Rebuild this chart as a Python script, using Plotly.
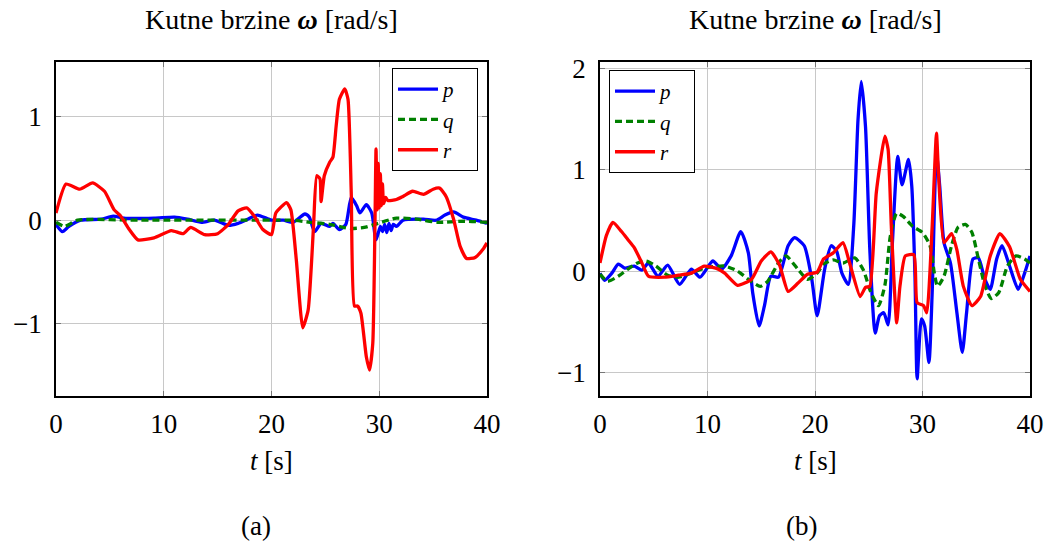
import plotly.graph_objects as go

# ---------------- Data: panel (a) ----------------
a_t_p = [0, 0.6, 1.2, 2.3, 4.2, 5.3, 6.3, 9.1, 11.0, 12.2, 13.5, 14.7, 16.0, 16.9, 17.8, 18.7, 20.0,
         21.1, 22.0, 23.1, 23.5, 24.0, 24.6, 25.4, 25.7, 26.3, 26.9, 27.4, 27.9, 28.2, 28.8, 29.3, 29.7,
         30.1, 30.3, 30.5, 30.7, 30.9, 31.1, 31.3, 31.6, 32.2, 34.1, 35.3, 36.1, 36.9, 37.8, 39.0, 40.0]
a_p = [-0.04, -0.11, -0.06, 0.00, 0.01, 0.04, 0.02, 0.02, 0.03, 0.01, -0.02, 0.00, -0.05, -0.03, 0.01, 0.05, 0.00,
       0.00, -0.02, 0.06, 0.03, -0.11, -0.03, -0.06, -0.03, -0.09, -0.04, 0.22, 0.14, 0.07, 0.15, 0.07, -0.19,
       -0.06, -0.11, -0.04, -0.12, -0.03, -0.10, -0.04, -0.06, 0.00, 0.01, 0.00, 0.05, 0.08, 0.03, 0.00, -0.03]

a_t_q = [0, 0.8, 2.0, 7.6, 20.0, 22.0, 23.6, 25.4, 27.3, 28.6, 29.9, 31.6, 33.5, 35.4, 37.9, 40.0]
a_q = [-0.02, -0.06, 0.00, 0.00, 0.00, 0.00, -0.02, -0.04, -0.08, -0.07, -0.03, 0.02, 0.01, -0.02, -0.01, -0.02]

a_t_r = [0, 0.93, 2.2, 3.4, 4.5, 5.4, 6.0, 6.8, 7.6, 9.1, 10.7, 11.8, 12.5, 13.8, 15.0, 16.0, 16.9, 17.7,
         18.4, 19.2, 20.0, 20.4, 21.4, 21.8, 22.3, 22.9, 23.4, 23.9, 24.2, 24.5, 24.6, 24.9, 25.4, 25.7,
         26.0, 26.3, 26.8, 27.1, 27.4, 27.7, 28.0, 28.3, 28.8, 29.1, 29.4, 29.6, 29.7, 29.8, 29.9, 30.0,
         30.1, 30.2, 30.3, 30.4, 30.6, 30.8, 31.6, 32.2, 33.1, 34.1, 35.0, 35.6, 36.2, 36.9, 37.5, 38.1,
         38.9, 39.7, 40.0]
a_r = [0.07, 0.35, 0.30, 0.36, 0.28, 0.10, 0.04, -0.09, -0.19, -0.17, -0.10, -0.13, -0.07, -0.14, -0.13, -0.04, 0.09, 0.12,
       0.04, -0.09, -0.14, 0.07, 0.17, 0.10, -0.38, -1.04, -0.87, -0.06, 0.43, 0.40, 0.18, 0.43, 0.56, 0.61,
       0.91, 1.17, 1.27, 1.17, 0.27, -0.83, -0.83, -0.90, -1.32, -1.45, -1.19, -0.06, 0.69, 0.10, 0.55, 0.12,
       0.45, 0.14, 0.35, 0.16, 0.22, 0.19, 0.20, 0.23, 0.28, 0.25, 0.30, 0.31, 0.23, 0.01, -0.25, -0.37,
       -0.36, -0.27, -0.22]

# ---------------- Data: panel (b) ----------------
b_t_p = [0, 0.43, 1.1, 1.7, 2.3, 3.2, 3.9, 4.5, 5.4, 6.3, 7.4, 8.5, 9.3, 10.5, 11.3, 12.2, 13.1, 13.8,
         14.2, 14.8, 15.3, 15.9, 16.6, 17.5, 18.1, 19.0, 19.7, 20.2, 20.9, 21.5, 22.0, 22.5, 23.1, 23.6,
         24.0, 24.3, 24.7, 25.1, 25.6, 26.0, 26.4, 26.8, 27.2, 27.7, 28.1, 28.7, 29.0, 29.3, 29.5, 29.9,
         30.2, 30.6, 30.9, 31.3, 31.6, 32.0, 32.6, 33.2, 33.7, 34.1, 34.7, 35.2, 35.8, 36.3, 36.9, 37.4,
         38.1, 38.9, 39.5, 40.0]
b_p = [-0.02, -0.09, -0.02, 0.07, 0.03, 0.05, 0.01, 0.08, -0.05, 0.06, -0.13, 0.02, -0.06, 0.10, 0.02, 0.15, 0.39, 0.18,
       -0.21, -0.54, -0.34, -0.05, -0.06, 0.25, 0.33, 0.25, -0.08, -0.44, 0.02, 0.25, 0.20, -0.02, -0.13, 0.44,
       1.49, 1.87, 1.42, 0.21, -0.61, -0.44, -0.41, -0.53, 0.28, 1.13, 0.85, 1.10, 0.84, -0.05, -1.06, -0.47,
       -0.54, -0.90, -0.21, 1.16, 0.84, 0.28, 0.08, -0.41, -0.80, -0.41, 0.12, 0.13, -0.08, -0.18, 0.12, 0.25,
       0.05, -0.18, -0.02, 0.15]

b_t_q = [0, 0.7, 1.7, 2.6, 3.5, 4.3, 5.2, 6.3, 7.3, 8.5, 9.7, 11.6, 12.8, 13.8, 14.9, 15.6, 16.6, 17.3,
         18.4, 19.3, 20.2, 20.8, 21.7, 22.6, 23.7, 24.5, 25.2, 25.9, 26.5, 27.0, 27.6, 28.2, 29.1, 30.0,
         30.7, 31.1, 31.4, 32.0, 32.7, 33.3, 34.0, 34.6, 35.2, 35.8, 36.4, 37.1, 37.9, 38.7, 39.5, 40.0]
b_q = [-0.03, -0.10, -0.05, 0.02, 0.08, 0.10, 0.05, -0.04, -0.06, -0.02, 0.03, 0.05, 0.00, -0.08, -0.15, -0.10, 0.08, 0.15,
       0.02, -0.08, -0.02, 0.07, 0.11, 0.08, 0.13, 0.01, -0.21, -0.34, -0.14, 0.34, 0.57, 0.54, 0.44, 0.38,
       0.25, -0.02, -0.15, -0.05, 0.25, 0.43, 0.46, 0.38, 0.12, -0.14, -0.27, -0.21, 0.05, 0.15, 0.12, 0.08]

b_t_r = [0, 0.59, 1.2, 2.0, 2.6, 3.2, 3.9, 4.5, 6.0, 7.3, 8.5, 9.7, 11.0, 11.6, 12.8, 14.1, 15.0, 15.9,
         16.7, 17.5, 18.4, 19.3, 20.2, 20.8, 21.7, 22.6, 23.3, 24.2, 24.7, 25.1, 25.7, 26.5, 26.8, 27.1,
         27.6, 27.9, 28.4, 29.2, 29.5, 30.1, 30.4, 30.9, 31.3, 31.5, 32.0, 32.7, 33.2, 33.8, 34.6, 35.4,
         36.3, 37.2, 38.1, 39.1, 40.0]
b_r = [0.08, 0.35, 0.48, 0.39, 0.31, 0.23, 0.08, -0.05, -0.06, -0.04, -0.02, 0.05, 0.02, -0.02, -0.14, -0.08, 0.10, 0.19,
       0.06, -0.20, -0.12, -0.03, -0.01, 0.12, 0.18, 0.28, 0.05, -0.25, -0.16, -0.15, 0.77, 1.33, 1.20, 0.44,
       -0.51, -0.15, 0.15, 0.16, -0.31, -0.34, -0.41, 0.44, 1.36, 0.93, 0.28, 0.37, 0.21, -0.15, -0.34, -0.25,
       0.15, 0.37, 0.24, -0.08, -0.20]

x_ticks = [0, 10, 20, 30, 40]
a_y_ticks = [-1, 0, 1]
b_y_ticks = [-1, 0, 1, 2]
title_text = "Kutne brzine <b><i>ω</i></b> [rad/s]"
xlabel_text = "<i>t</i> [s]"
sub_labels = ["(a)", "(b)"]
series_names = ["<i>p</i>&nbsp;&nbsp;&nbsp;", "<i>q</i>&nbsp;&nbsp;&nbsp;", "<i>r</i>&nbsp;&nbsp;&nbsp;"]

BLUE = "#0000ff"
GREEN = "#008000"
RED = "#ff0000"
FONT = "Liberation Serif"
FS = 27
TITLE_FS = 28
LEG_FS = 21

W, H = 1051, 551

def px(x):
    return x / W

def py(y):
    return 1 - y / H

fig = go.Figure()

def add_set(tp, p, tq, q, tr, r, xa, ya, leg):
    fig.add_trace(go.Scatter(x=tp, y=p, mode="lines", name=series_names[0], xaxis=xa, yaxis=ya, legend=leg,
                             line=dict(color=BLUE, width=3.3, shape="spline", smoothing=0.6)))
    fig.add_trace(go.Scatter(x=tq, y=q, mode="lines", name=series_names[1], xaxis=xa, yaxis=ya, legend=leg,
                             line=dict(color=GREEN, width=3.3, dash="7px,4px", shape="spline", smoothing=0.6)))
    fig.add_trace(go.Scatter(x=tr, y=r, mode="lines", name=series_names[2], xaxis=xa, yaxis=ya, legend=leg,
                             line=dict(color=RED, width=3.3, shape="spline", smoothing=0.5)))

add_set(a_t_p, a_p, a_t_q, a_q, a_t_r, a_r, "x", "y", "legend")
add_set(b_t_p, b_p, b_t_q, b_q, b_t_r, b_r, "x2", "y2", "legend2")

xa_dom = [px(56), px(487)]
xb_dom = [px(600), px(1030)]
y_dom = [py(396), py(62)]

axis_common = dict(showgrid=True, gridcolor="#c8c8c8", gridwidth=1, zeroline=False,
                   showline=True, linecolor="black", linewidth=1.5, mirror="ticks",
                   ticks="inside", ticklen=5, tickcolor="#777777", tickwidth=1, automargin=False,
                   tickfont=dict(family=FONT, size=FS, color="black"))

fig.update_layout(
    width=W, height=H,
    margin=dict(l=0, r=0, t=0, b=0, autoexpand=False),
    paper_bgcolor="white", plot_bgcolor="white",
    font=dict(family=FONT, size=FS, color="black"),
    xaxis=dict(domain=xa_dom, range=[0, 40], tickvals=x_ticks, anchor="y", ticklabelstandoff=3, **axis_common),
    yaxis=dict(domain=y_dom, range=[-1.70, 1.53], tickvals=a_y_ticks, anchor="x", ticklabelstandoff=7, **axis_common),
    xaxis2=dict(domain=xb_dom, range=[0, 40], tickvals=x_ticks, anchor="y2", ticklabelstandoff=3, **axis_common),
    yaxis2=dict(domain=y_dom, range=[-1.23, 2.06], tickvals=b_y_ticks, anchor="x2", ticklabelstandoff=7, **axis_common),
    legend=dict(x=px(478), y=py(68), xanchor="right", yanchor="top",
                bordercolor="black", borderwidth=1, bgcolor="white",
                font=dict(family=FONT, size=LEG_FS, color="black"), tracegroupgap=0, itemwidth=40),
    legend2=dict(x=px(609), y=py(70), xanchor="left", yanchor="top",
                 bordercolor="black", borderwidth=1, bgcolor="white",
                 font=dict(family=FONT, size=LEG_FS, color="black"), tracegroupgap=0, itemwidth=40),
    showlegend=True,
)

for cx, sub_x, lab in [(271.5, 256, sub_labels[0]), (815, 801, sub_labels[1])]:
    fig.add_annotation(text=title_text, x=px(cx), y=py(20), xref="paper", yref="paper",
                       xanchor="center", yanchor="middle", showarrow=False,
                       font=dict(family=FONT, size=TITLE_FS, color="black"))
    fig.add_annotation(text=xlabel_text, x=px(cx), y=py(461), xref="paper", yref="paper",
                       xanchor="center", yanchor="middle", showarrow=False,
                       font=dict(family=FONT, size=FS, color="black"))
    fig.add_annotation(text=lab, x=px(sub_x), y=py(526), xref="paper", yref="paper",
                       xanchor="center", yanchor="middle", showarrow=False,
                       font=dict(family=FONT, size=FS, color="black"))

# remove the default 8px page margin so the figure fills the window exactly
fig.write_html("out.html", config={"displayModeBar": False},
               post_script="document.body.style.margin='0';")
